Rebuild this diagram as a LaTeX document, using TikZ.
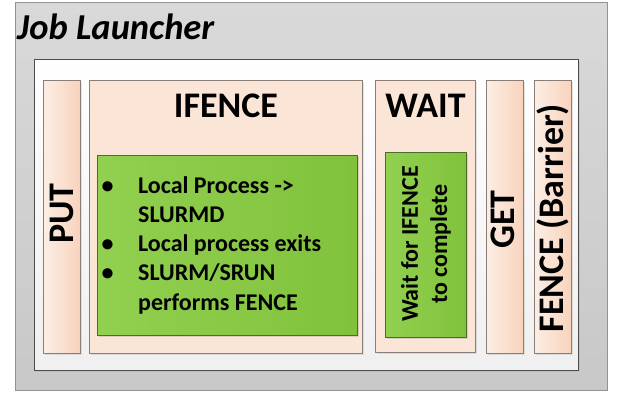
\documentclass[tikz,border=0pt]{standalone}
\usepackage{fontspec}
\setmainfont{Carlito}
\usetikzlibrary{positioning, shadows}

\definecolor{launchtop}{HTML}{D9D9D9}
\definecolor{launchbot}{HTML}{C8C8C8}
\definecolor{peach}{HTML}{FBE5D6}
\definecolor{peachlight}{HTML}{FCEEE5}
\definecolor{peachdark}{HTML}{F8D3BC}
\definecolor{leafleft}{HTML}{92D050}
\definecolor{leafright}{HTML}{80C23C}
\definecolor{leafline}{HTML}{4E6B2E}
\definecolor{colline}{HTML}{8A7F78}

\begin{document}
\begin{tikzpicture}[x=1pt, y=-1pt,
		box/.style={rectangle, inner sep=0pt, anchor=north west},
		launcher/.style={box, draw=gray!85, top color=launchtop, bottom color=launchbot},
		frame/.style={box, draw=black!70, top color=white, bottom color=black!6,
			drop shadow={opacity=0.15, shadow xshift=2pt, shadow yshift=-2pt}},
		column/.style={box, draw=colline, fill=peach,
			drop shadow={opacity=0.2, shadow xshift=2pt, shadow yshift=-2pt}},
		slim/.style={column, left color=peachlight, right color=peachdark},
		task/.style={box, draw=leafline, left color=leafleft, right color=leafright,
			drop shadow={opacity=0.25, shadow xshift=2pt, shadow yshift=-2pt}},
		title/.style={font=\fontsize{36}{40}\selectfont\bfseries, inner sep=0pt},
		item/.style={font=\fontsize{24}{29.3}\selectfont\bfseries, inner sep=0pt}]
	\useasboundingbox (0,0) rectangle (617,394);

	\node[launcher, minimum width=592pt, minimum height=388pt] (launch) at (15,2) {};
	\node[anchor=base west, inner sep=0pt, font=\fontsize{36.5}{40}\selectfont\bfseries\itshape]
		(launchname) at (17,39) {Job Launcher};
	\node[frame, minimum width=544pt, minimum height=311pt] (inner) at (34,59) {};

	% columns
	\node[slim, minimum width=37pt, minimum height=273pt] (put) at (43,80) {};
	\node[column, minimum width=273pt, minimum height=273pt] (ifence) at (89,80) {};
	\node[column, minimum width=100pt, minimum height=272pt] (wait) at (375,80) {};
	\node[slim, minimum width=37pt, minimum height=273pt] (get) at (486,80) {};
	\node[slim, minimum width=37pt, minimum height=273pt] (fence) at (534,80) {};

	\node[title, rotate=90] (putname) at (61.5,213.5) {PUT};
	\node[title, anchor=base] (ifencename) at (226,117) {IFENCE};
	\node[title, anchor=base] (waitname) at (425.5,117) {WAIT};
	\node[title, rotate=90] (getname) at (503,219.5) {GET};
	\node[title, rotate=90] (fencename) at (553,218) {FENCE (Barrier)};

	% green boxes
	\node[task, minimum width=260pt, minimum height=180pt] (steps) at (97,155) {};
	\node[task, minimum width=81pt, minimum height=185pt] (waitstep) at (385,152) {};

	\node[item, anchor=base west] (steplist) at (101.5,193) {%
		\begin{tabular}[t]{@{}p{36.5pt}@{}l@{}}
			\textbullet & Local Process -> \\
			& SLURMD \\
			\textbullet & Local process exits \\
			\textbullet & SLURM/SRUN \\
			& performs FENCE
		\end{tabular}};
	\node[item, rotate=90, align=center] (waittext) at (426,244) {Wait for IFENCE\\to complete};
\end{tikzpicture}
\end{document}
